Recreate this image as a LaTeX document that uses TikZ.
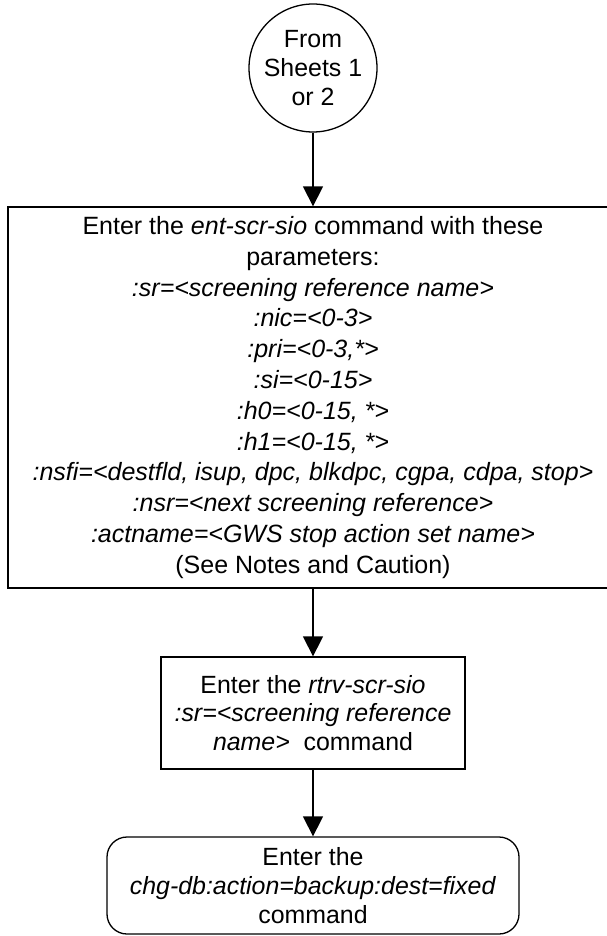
\documentclass[tikz,border=0pt]{standalone}
\usepackage{fontspec}
\setmainfont{Liberation Sans}
\usetikzlibrary{arrows.meta}
\begin{document}
\begin{tikzpicture}[x=1pt,y=-1pt,
  every node/.style={font=\fontsize{24.9}{28.6}\selectfont, align=center, inner sep=0pt},
  boxline/.style={draw, line width=1.3pt},
  flow/.style={line width=1.3pt, -{Triangle[width=20pt,length=20pt]}}]
\useasboundingbox (0,0) rectangle (606,936);
\node[boxline, circle, minimum size=128pt] (start) at (313,68) {From\\Sheets 1\\or 2};
\node[boxline, rectangle, minimum width=610pt, minimum height=381pt,
      font=\fontsize{25}{30.8}\selectfont] (ent) at (313,397.5)
 {Enter the \textit{ent-scr-sio} command with these\\
  parameters:\\
  \textit{:sr=<screening reference name>}\\
  \textit{:nic=<0-3>}\\
  \textit{:pri=<0-3,*>}\\
  \textit{:si=<0-15>}\\
  \textit{:h0=<0-15, *>}\\
  \textit{:h1=<0-15, *>}\\
  \textit{:nsfi=<destfld, isup, dpc, blkdpc, cgpa, cdpa, stop>}\\
  \textit{:nsr=<next screening reference>}\\
  \textit{:actname=<GWS stop action set name>}\\
  (See Notes and Caution)};
\node[boxline, rectangle, minimum width=304pt, minimum height=112pt] (rtrv) at (313,713)
 {Enter the \textit{rtrv-scr-sio}\\\textit{:sr=<screening reference}\\\textit{name>}~ command};
\node[boxline, rectangle, rounded corners=20pt, minimum width=412pt, minimum height=97pt] (chg) at (313,885.5)
 {Enter the\\\textit{chg-db:action=backup:dest=fixed}\\command};
\draw[flow] (start.south) -- (ent.north);
\draw[flow] (ent.south) -- (rtrv.north);
\draw[flow] (rtrv.south) -- (chg.north);
\end{tikzpicture}
\end{document}
